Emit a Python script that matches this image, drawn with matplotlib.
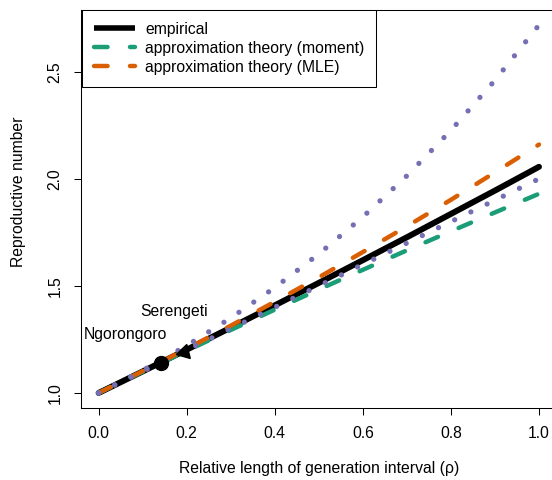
import matplotlib
matplotlib.use("Agg")
import matplotlib.pyplot as plt
from matplotlib.lines import Line2D

plt.rcParams["font.family"] = ["Liberation Sans", "DejaVu Sans"]
plt.rcParams["font.size"] = 11.3

# relative length of generation interval
rho = [0.0, 0.1, 0.2, 0.3, 0.4, 0.5, 0.6, 0.7, 0.8, 0.9, 1.0]

# reproductive number curves
empirical = [1.0, 1.1005, 1.202, 1.305, 1.409, 1.514, 1.620, 1.727, 1.836, 1.945, 2.056]
moment = [1.0, 1.099, 1.197, 1.294, 1.389, 1.483, 1.575, 1.666, 1.755, 1.843, 1.93]
mle = [1.0, 1.102, 1.206, 1.314, 1.426, 1.54, 1.658, 1.778, 1.902, 2.03, 2.16]
upper_bound = [1.0, 1.105, 1.221, 1.350, 1.492, 1.649, 1.822, 2.014, 2.226, 2.460, 2.718]
lower_bound = [1.0, 1.1, 1.2, 1.3, 1.4, 1.5, 1.6, 1.7, 1.8, 1.9, 2.0]

# study sites
site_names = ["Ngorongoro", "Serengeti"]
site_rho = [0.141, 0.193]
site_R = [1.14, 1.19]
label_pos = [(0.061, 1.271), (0.172, 1.379)]

green = "#1B9E77"
orange = "#D95F02"
purple = "#7570B3"

fig = plt.figure(figsize=(5.52, 4.80), dpi=100)
ax = fig.add_axes([81 / 552, 72.3 / 480, 475.6 / 552, 397.4 / 480])

dash = (3.05, 5.05)
dots = (0.01, 3.4)
ax.plot(rho, empirical, color="black", lw=4.3, solid_capstyle="round")
ax.plot(rho, moment, color=green, lw=3.2, dashes=dash, dash_capstyle="round")
ax.plot(rho, mle, color=orange, lw=3.2, dashes=dash, dash_capstyle="round")
ax.plot(rho, upper_bound, color=purple, lw=3.8, dashes=dots, dash_capstyle="round")
ax.plot(rho, lower_bound, color=purple, lw=3.8, dashes=dots, dash_capstyle="round")

ax.plot(site_rho[0], site_R[0], "o", color="black", ms=10)
ax.plot(site_rho[1], site_R[1], marker=(3, 0, 104), color="black", ms=12, ls="none")
for name, (lx, ly) in zip(site_names, label_pos):
    ax.text(lx, ly, name, ha="center", va="center")

ax.set_xlim(-0.04, 1.04)
ax.set_ylim(1.0 - 0.0688, 2.718 + 0.0688)
ax.set_xticks([0.0, 0.2, 0.4, 0.6, 0.8, 1.0])
ax.set_xticklabels(["0.0", "0.2", "0.4", "0.6", "0.8", "1.0"])
ax.set_yticks([1.0, 1.5, 2.0, 2.5])
ax.set_yticklabels(["1.0", "1.5", "2.0", "2.5"], rotation=90, va="center")
ax.tick_params(length=5, width=0.75, pad=8.5)
for s in ax.spines.values():
    s.set_linewidth(0.75)

ax.set_xlabel("Relative length of generation interval (\u03c1)", va="center")
ax.set_ylabel("Reproductive number", va="center")
ax.xaxis.set_label_coords(0.5, -0.152)
ax.yaxis.set_label_coords(-0.132, 0.5435)

handles = [
    Line2D([], [], color="black", lw=4.0, solid_capstyle="butt"),
    Line2D([], [], color=green, lw=3.2, dashes=dash, dash_capstyle="round"),
    Line2D([], [], color=orange, lw=3.2, dashes=dash, dash_capstyle="round"),
]
labels = ["empirical", "approximation theory (moment)", "approximation theory (MLE)"]
leg = ax.legend(handles, labels, loc="upper left", bbox_to_anchor=(1 / 475.6, 1.0),
                borderaxespad=0, fancybox=False, framealpha=1, edgecolor="black",
                handlelength=2.6, handleheight=1.0, handletextpad=0.68,
                borderpad=0.75, labelspacing=0.22)
leg.get_frame().set_linewidth(0.75)

fig.savefig("out.png", dpi=100)
